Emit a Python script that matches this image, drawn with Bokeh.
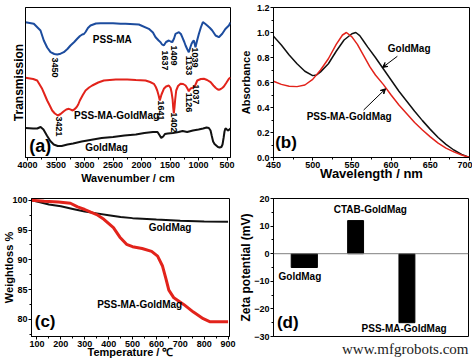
import math
from bokeh.plotting import figure
from bokeh.models import Range1d, Label, Arrow, VeeHead, Span, FixedTicker
from bokeh.layouts import column, row
from bokeh.embed import file_html
from bokeh.resources import INLINE

FONT = "Liberation Sans"
BLUE = "#1c4c9e"
RED = "#e2231b"
BLACK = "#111111"

# ---------------- (a) FTIR ----------------
wn_psma = [4035, 3889, 3772, 3714, 3655, 3596, 3530, 3479, 3420, 3363, 3300, 3246, 3180, 3128,
           3080, 3040, 3010, 2982, 2940, 2895, 2800, 2720, 2500, 2368, 2281, 2047, 1872, 1800,
           1754, 1700, 1667, 1640, 1610, 1570, 1521, 1490, 1462, 1430, 1404, 1345, 1310, 1286,
           1250, 1228, 1200, 1171, 1145, 1123, 1100, 1082, 1065, 1054, 1030, 994, 960, 924, 890,
           848, 800, 760, 702, 644, 585, 530, 468, 440]
t_psma = [135.3, 133.7, 127, 117, 110, 105.3, 103.5, 103, 103.8, 105.3, 108.5, 112, 115.5, 118.7,
          121.5, 123, 123.5, 125.5, 129.5, 132, 134, 134.3, 134.2, 133.7, 133.7, 133, 128.7, 125,
          120.3, 117, 115.3, 113, 112, 115.5, 117, 116, 115.3, 119, 123.7, 125.3, 123.5, 120.3,
          115.5, 112, 108.5, 105.3, 110, 113.7, 116, 117, 113, 110.3, 116, 123.7, 130, 135.3, 134,
          132, 129.5, 127, 122, 120.3, 123.7, 128.5, 132, 135]

wn_psma_gm = [4035, 3900, 3830, 3743, 3700, 3655, 3610, 3567, 3520, 3468, 3420, 3363, 3320, 3275,
              3240, 3216, 3180, 3140, 3110, 3082, 3030, 2982, 2920, 2865, 2760, 2661, 2451, 2251,
              2100, 1930, 1850, 1784, 1750, 1725, 1700, 1680, 1650, 1609, 1570, 1521, 1490, 1474,
              1455, 1445, 1434, 1422, 1410, 1392, 1360, 1316, 1270, 1228, 1200, 1171, 1140, 1111,
              1085, 1060, 1023, 960, 907, 850, 789, 740, 702, 670, 644, 610, 585, 556, 510, 468, 440]
t_psma_gm = [79.7, 78.5, 77, 68.7, 63, 57, 52, 47, 44, 42, 43.5, 46.3, 48, 48.7,
             47.8, 47, 48, 50.3, 53, 57, 62.5, 67, 70, 72, 75, 77, 78, 78,
             77.5, 77, 75.5, 73.7, 70.5, 67, 62, 57, 63, 68.7, 71, 72, 69.5, 65.3,
             58, 50, 44, 50, 58, 67, 71.5, 73.7, 73.5, 72, 69.5, 66.3, 69, 69.5,
             70.5, 72, 77, 78.5, 78.7, 77.5, 75.3, 72, 69.7, 68.3, 67.7, 68.5, 69.5, 71, 75, 78.7, 80]

wn_gm = [4035, 3900, 3830, 3770, 3720, 3660, 3600, 3540, 3470, 3400, 3300, 3200, 3050, 2900,
         2700, 2500, 2300, 2100, 1950, 1800, 1720, 1680, 1655, 1620, 1590, 1540, 1450, 1350,
         1280, 1200, 1100, 1000, 920, 860, 820, 790, 770, 745, 720, 690, 660, 630, 600, 580,
         560, 545, 530, 510, 490, 470, 440]
t_gm = [29.5, 29, 29, 30.5, 28, 22, 16.5, 13, 11.5, 11.5, 13, 14, 16, 17.5,
        19.5, 20.5, 22, 23, 24.5, 25.5, 25.5, 22, 19.5, 21, 23.5, 24, 24.5, 25.5,
        26.5, 25.5, 27, 28, 29, 30, 29.5, 27, 22, 16, 13.5, 12, 10.5, 10, 10.5, 13,
        20, 26, 29, 28.5, 27, 27.5, 29]

# peak labels: text, position along the axis as drawn, height
peaks_psma = ["3450", "1637", "1409", "1133", "1039"]
peaks_psma_x = [3509, 1592, 1434, 1171, 1054]
peaks_psma_y = [90, 97, 102, 92, 100]
peaks_psma_gm = ["3421", "1641", "1402", "1126", "1037"]
peaks_psma_gm_x = [3451, 1667, 1434, 1160, 1050]
peaks_psma_gm_y = [31, 47, 35, 55, 63]
ftir_ticks = [4000, 3500, 3000, 2500, 2000, 1500, 1000, 500]

# ---------------- (b) UV-vis ----------------
nm_gm = [450, 460, 470, 480, 490, 500, 505, 510, 520, 530, 540, 550, 555, 560, 565, 570, 580,
         590, 600, 610, 620, 630, 640, 650, 660, 670, 680, 690, 700]
abs_gm = [0.97, 0.90, 0.82, 0.75, 0.69, 0.655, 0.66, 0.685, 0.75, 0.85, 0.94, 0.99, 1.0, 0.975,
          0.93, 0.885, 0.80, 0.71, 0.62, 0.53, 0.45, 0.37, 0.295, 0.225, 0.16, 0.105, 0.06, 0.025, 0.0]
nm_psma_gm = [450, 460, 470, 480, 490, 500, 510, 520, 530, 538, 543, 550, 557, 565, 573, 580,
              590, 600, 610, 620, 630, 640, 650, 660, 670, 680, 690, 700]
abs_psma_gm = [0.61, 0.585, 0.57, 0.567, 0.58, 0.625, 0.70, 0.79, 0.905, 0.98, 1.0, 0.965, 0.905,
               0.815, 0.725, 0.66, 0.585, 0.50, 0.42, 0.35, 0.28, 0.22, 0.165, 0.115, 0.075, 0.045,
               0.02, 0.0]

# ---------------- (c) TGA ----------------
temp_gm = [77, 100, 150, 200, 250, 300, 350, 400, 450, 500, 600, 700, 800, 900]
wt_gm = [100, 99.8, 99.3, 99.0, 98.55, 98.1, 97.8, 97.5, 97.2, 97.0, 96.75, 96.55, 96.45, 96.4]
temp_psma_gm = [77, 130, 190, 240, 270, 300, 325, 350, 380, 420, 447, 475, 500, 540, 580, 605,
                625, 640, 652, 673, 714, 755, 796, 823, 900]
wt_psma_gm = [100, 99.85, 99.7, 99.5, 98.9, 98.45, 98.0, 97.6, 96.8, 95.4, 93.8, 92.6, 92.2, 91.9,
              91.4, 90.6, 89.0, 86.8, 84.9, 83.6, 82.5, 81.2, 80.1, 79.6, 79.6]

# ---------------- (d) Zeta ----------------
zeta_names = ["GoldMag", "CTAB-GoldMag", "PSS-MA-GoldMag"]
zeta_mv = [-5, 12, -25]


def style(p):
    p.outline_line_color = "black"
    p.outline_line_width = 1
    p.grid.visible = False
    p.background_fill_color = "white"
    p.border_fill_color = "white"
    for ax in p.axis:
        ax.axis_line_color = "black"
        ax.major_tick_line_color = "black"
        ax.minor_tick_line_color = "black"
        ax.major_tick_out = 3
        ax.major_tick_in = 0
        ax.minor_tick_out = 2
        ax.minor_tick_in = 0
        ax.major_label_text_font = FONT
        ax.major_label_text_font_style = "bold"
        ax.major_label_text_font_size = "9px"
        ax.major_label_text_color = "black"
        ax.major_label_standoff = 1
        ax.axis_label_text_font = FONT
        ax.axis_label_text_font_style = "bold"
        ax.axis_label_text_font_size = "11px"
        ax.axis_label_text_color = "black"


def lab(p, x, y, text, size="10px", angle=0.0, font=FONT, style_="bold", color="black"):
    p.add_layout(Label(x=x, y=y, text=text, text_font=font, text_font_style=style_,
                       text_font_size=size, text_align="center", text_baseline="middle",
                       angle=angle, text_color=color))


def minors(start, stop, step):
    out = []
    v = start
    while v <= stop + 1e-9:
        out.append(round(v, 6))
        v += step
    return out


# ---- panel a ----
pa = figure(width=236, height=187, x_range=Range1d(4035, 440), y_range=Range1d(0, 150),
            min_border_left=25, min_border_right=6, min_border_top=7, min_border_bottom=30,
            output_backend="svg", toolbar_location=None)
style(pa)
pa.line(wn_psma, t_psma, line_color=BLUE, line_width=2)
pa.line(wn_psma_gm, t_psma_gm, line_color=RED, line_width=2)
pa.line(wn_gm, t_gm, line_color=BLACK, line_width=2)
pa.xaxis.ticker = FixedTicker(ticks=ftir_ticks, minor_ticks=minors(250, 4250, 250))
pa.xaxis.axis_label = "Wavenumber / cm"
pa.xaxis.axis_label_standoff = 1
pa.yaxis.ticker = FixedTicker(ticks=[])
pa.yaxis.major_tick_out = 0
pa.yaxis.minor_tick_out = 0
pa.yaxis.major_label_standoff = 0
pa.yaxis.axis_label = "Transmission"
pa.yaxis.axis_label_text_font_size = "12px"
pa.yaxis.axis_label_standoff = 0
for t, x, y in zip(peaks_psma, peaks_psma_x, peaks_psma_y):
    lab(pa, x, y, t, size="9px", angle=-math.pi / 2)
for t, x, y in zip(peaks_psma_gm, peaks_psma_gm_x, peaks_psma_gm_y):
    lab(pa, x, y, t, size="9px", angle=-math.pi / 2)
lab(pa, 2514, 118, "PSS-MA")
lab(pa, 2438, 42, "PSS-MA-GoldMag")
lab(pa, 2614, 10.5, "GoldMag")
lab(pa, 3777, 11.5, "(a)", size="18px")

# ---- panel b ----
pb = figure(width=236, height=187, x_range=Range1d(450, 700), y_range=Range1d(0, 1.2),
            min_border_left=31, min_border_right=3, min_border_top=5, min_border_bottom=26,
            output_backend="svg", toolbar_location=None)
style(pb)
pb.line(nm_gm, abs_gm, line_color=BLACK, line_width=1.5)
pb.line(nm_psma_gm, abs_psma_gm, line_color=RED, line_width=1.5)
pb.xaxis.ticker = FixedTicker(ticks=[450, 500, 550, 600, 650, 700], minor_ticks=minors(450, 700, 25))
pb.yaxis.ticker = FixedTicker(ticks=[0.0, 0.2, 0.4, 0.6, 0.8, 1.0, 1.2], minor_ticks=minors(0, 1.2, 0.1))
pb.yaxis.major_label_overrides = {0.0: "0.0", 0.2: "0.2", 0.4: "0.4", 0.6: "0.6", 0.8: "0.8",
                                  1.0: "1.0", 1.2: "1.2"}
pb.xaxis.axis_label = "Wavelength / nm"
pb.xaxis.axis_label_text_font_size = "13px"
pb.xaxis.axis_label_standoff = -5
pb.yaxis.axis_label = "Absorbance"
pb.yaxis.axis_label_standoff = 2
pb.add_layout(Arrow(end=VeeHead(size=5, line_color="black", line_width=1),
                    x_start=608, y_start=0.81, x_end=589, y_end=0.72, line_width=1))
pb.add_layout(Arrow(end=VeeHead(size=5, line_color="black", line_width=1),
                    x_start=565, y_start=0.38, x_end=593, y_end=0.55, line_width=1))
lab(pb, 623, 0.87, "GoldMag")
lab(pb, 546.5, 0.33, "PSS-MA-GoldMag")
lab(pb, 466, 0.123, "(b)", size="17px")

# ---- panel c ----
pc = figure(width=236, height=174, x_range=Range1d(77, 906), y_range=Range1d(77.1, 100.3),
            min_border_left=26, min_border_right=7, min_border_top=6, min_border_bottom=24,
            output_backend="svg", toolbar_location=None)
style(pc)
pc.line(temp_gm, wt_gm, line_color=BLACK, line_width=2)
pc.line(temp_psma_gm, wt_psma_gm, line_color=RED, line_width=3)
pc.xaxis.ticker = FixedTicker(ticks=list(range(100, 901, 100)), minor_ticks=minors(50, 900, 50))
pc.yaxis.ticker = FixedTicker(ticks=[80, 85, 90, 95, 100], minor_ticks=minors(77.5, 100, 2.5))
pc.xaxis.axis_label = "Temperature / \u2103"
pc.xaxis.axis_label_standoff = -4
pc.yaxis.axis_label = "Weightloss %"
pc.yaxis.axis_label_standoff = -6
lab(pc, 657, 95.4, "GoldMag")
lab(pc, 530, 82.5, "PSS-MA-GoldMag")
lab(pc, 134, 79.6, "(c)", size="17px")

# ---- panel d ----
pd = figure(width=236, height=174, x_range=Range1d(0.4, 4.2), y_range=Range1d(-30, 20),
            min_border_left=30, min_border_right=4, min_border_top=11, min_border_bottom=25,
            output_backend="svg", toolbar_location=None)
style(pd)
zeta_x = list(range(1, len(zeta_names) + 1))
pd.vbar(x=zeta_x, top=zeta_mv, bottom=0, width=[0.51, 0.31, 0.31],
        fill_color="black", line_color="black")
pd.add_layout(Span(location=0, dimension="width", line_color="#808080", line_width=1))
pd.xaxis.visible = False
pd.yaxis.ticker = FixedTicker(ticks=[-30, -20, -10, 0, 10, 20], minor_ticks=minors(-30, 20, 5))
pd.yaxis.axis_label = "Zeta potential (mV)"
pd.yaxis.axis_label_text_font_size = "12px"
pd.yaxis.axis_label_standoff = -2
lab(pd, 0.914, -8.15, zeta_names[0])
lab(pd, 2.287, 15.9, zeta_names[1])
lab(pd, 2.945, -27.2, zeta_names[2])
lab(pd, 0.678, -24.8, "(d)", size="17px")
pd.title_location = "below"
pd.title.text = "www.mfgrobots.com"
pd.title.align = "right"
pd.title.text_font = "Liberation Serif"
pd.title.text_font_style = "normal"
pd.title.text_font_size = "15px"
pd.title.text_color = "#222222"
pd.title.standoff = 4
pd.title.offset = 0

layout = column(row(pa, pb), row(pc, pd),
                styles={"position": "absolute", "left": "0px", "top": "0px"})

open("out.html", "w").write(file_html(layout, INLINE))
